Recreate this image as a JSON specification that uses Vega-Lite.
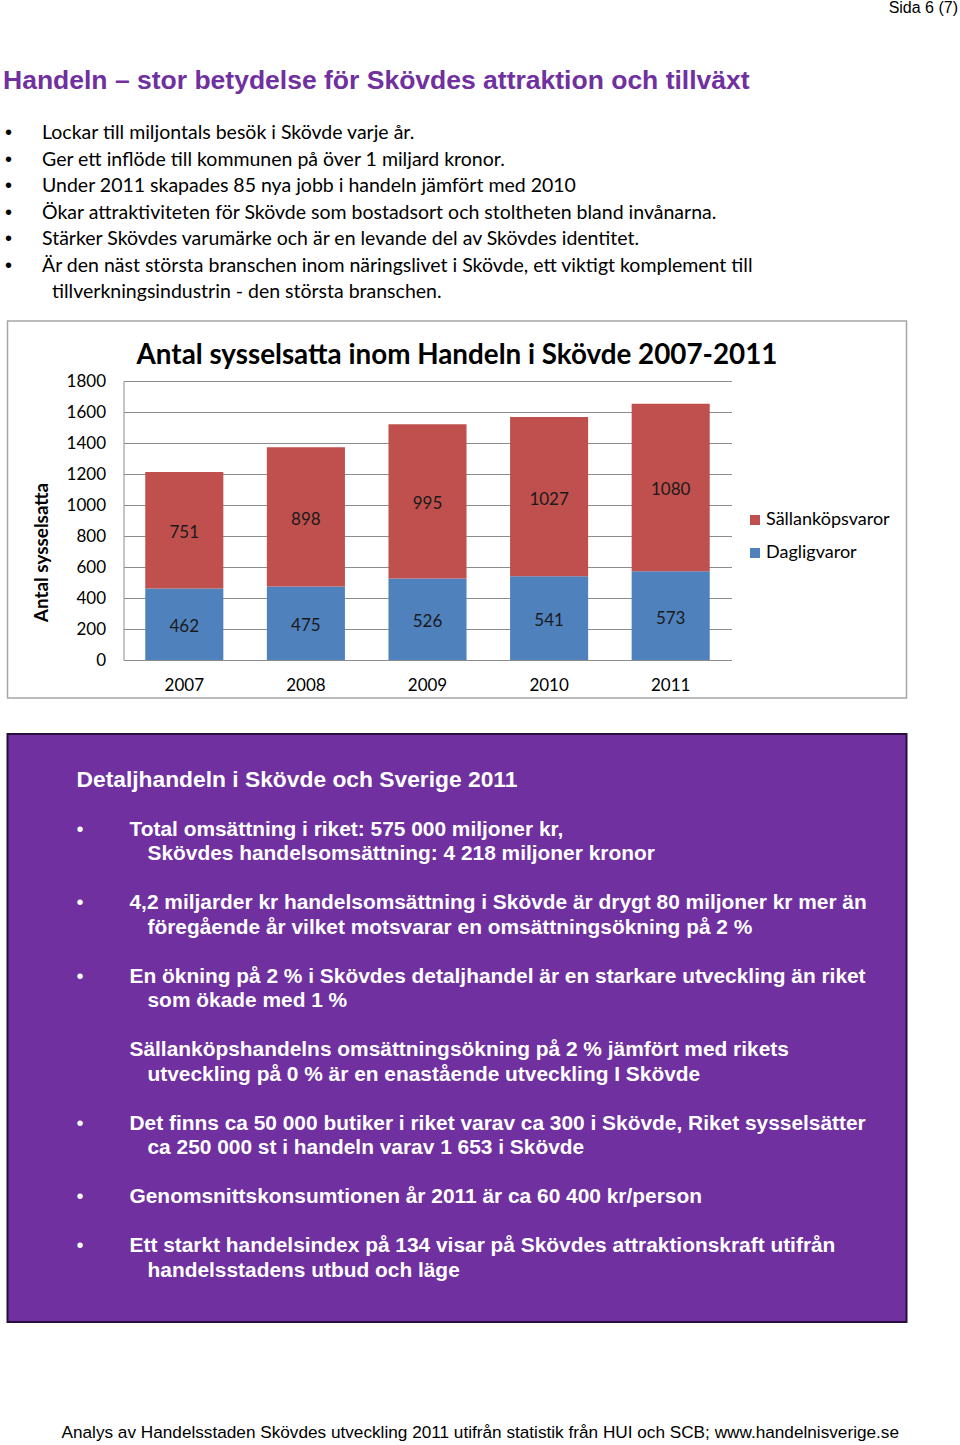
{
  "$schema": "https://vega.github.io/schema/vega-lite/v6.json",
  "background": "white",
  "padding": {"left": 3, "top": 0, "right": 0, "bottom": 0},
  "title": {"text": "Sida 6 (7)", "anchor": "end", "dx": 46, "fontSize": 16, "font": "Liberation Sans", "fontWeight": "normal", "color": "black", "offset": 52},
  "config": {"view": {"stroke": null}},
  "spacing": 13,
  "center": true,
  "vconcat": [
    {
      "width": 909,
      "height": 238.5,
      "data": {"values": [
        {"rad": 0, "niva": "rubrik", "text": "Handeln – stor betydelse för Skövdes attraktion och tillväxt"},
        {"rad": 2, "niva": "punkt", "text": "Lockar till miljontals besök i Skövde varje år."},
        {"rad": 3, "niva": "punkt", "text": "Ger ett inflöde till kommunen på över 1 miljard kronor."},
        {"rad": 4, "niva": "punkt", "text": "Under 2011 skapades 85 nya jobb i handeln jämfört med 2010"},
        {"rad": 5, "niva": "punkt", "text": "Ökar attraktiviteten för Skövde som bostadsort och stoltheten bland invånarna."},
        {"rad": 6, "niva": "punkt", "text": "Stärker Skövdes varumärke och är en levande del av Skövdes identitet."},
        {"rad": 7, "niva": "punkt", "text": "Är den näst största branschen inom näringslivet i Skövde, ett viktigt komplement till"},
        {"rad": 8, "niva": "fortsattning", "text": "tillverkningsindustrin - den största branschen."}
      ]},
      "encoding": {
        "y": {"field": "rad", "type": "ordinal", "scale": {"type": "point", "domain": [0, 1, 2, 3, 4, 5, 6, 7, 8], "padding": 0.5}, "axis": null},
        "text": {"field": "text"}
      },
      "layer": [
        {"transform": [{"filter": "datum.niva === 'rubrik'"}],
         "mark": {"type": "text", "x": 0, "dx": 0, "align": "left", "baseline": "middle", "font": "Liberation Sans", "fontWeight": "bold", "fontSize": 26.5, "color": "#7030A0"}},
        {"transform": [{"filter": "datum.niva === 'punkt'"}],
         "mark": {"type": "text", "x": 0, "dx": 2, "dy": -1, "align": "left", "baseline": "middle", "font": "Liberation Sans", "fontSize": 20, "color": "black"},
         "encoding": {"text": {"value": "•"}}},
        {"transform": [{"filter": "datum.niva === 'punkt'"}],
         "mark": {"type": "text", "x": 0, "dx": 39, "dy": -1, "align": "left", "baseline": "middle", "font": "Lato", "fontSize": 19.5, "color": "black"}},
        {"transform": [{"filter": "datum.niva === 'fortsattning'"}],
         "mark": {"type": "text", "x": 0, "dx": 49, "dy": -1, "align": "left", "baseline": "middle", "font": "Lato", "fontSize": 19.5, "color": "black"}}
      ]
    },
    {
      "spacing": 34,
      "vconcat": [
        {
          "width": 899,
          "height": 377,
          "view": {"stroke": "#a6a6a6", "strokeWidth": 1.5, "fill": "white"},
          "title": {"text": "Antal sysselsatta inom Handeln i Skövde 2007-2011", "font": "Lato", "fontSize": 27.8, "fontWeight": "bold", "color": "black", "anchor": "middle", "offset": -49},
          "data": {"values": [
            {"ar": "2007", "serie": "Dagligvaror", "antal": 462},
            {"ar": "2007", "serie": "Sällanköpsvaror", "antal": 751},
            {"ar": "2008", "serie": "Dagligvaror", "antal": 475},
            {"ar": "2008", "serie": "Sällanköpsvaror", "antal": 898},
            {"ar": "2009", "serie": "Dagligvaror", "antal": 526},
            {"ar": "2009", "serie": "Sällanköpsvaror", "antal": 995},
            {"ar": "2010", "serie": "Dagligvaror", "antal": 541},
            {"ar": "2010", "serie": "Sällanköpsvaror", "antal": 1027},
            {"ar": "2011", "serie": "Dagligvaror", "antal": 573},
            {"ar": "2011", "serie": "Sällanköpsvaror", "antal": 1080}
          ]},
          "encoding": {
            "x": {"field": "ar", "type": "ordinal", "scale": {"range": [116, 724], "paddingInner": 0.358, "paddingOuter": 0.179},
                  "axis": {"title": null, "labelAngle": 0, "offset": -38, "domain": true, "domainColor": "#8c8c8c", "ticks": false, "tickSize": 0, "labelPadding": 17, "labelFont": "Lato", "labelFontSize": 17, "labelColor": "black"}},
            "order": {"field": "serie", "type": "nominal", "sort": "ascending"}
          },
          "layer": [
            {
              "mark": {"type": "bar"},
              "encoding": {
                "y": {"field": "antal", "type": "quantitative", "stack": "zero",
                      "scale": {"domain": [0, 1800], "range": [339, 60], "nice": false},
                      "axis": {"title": "Antal sysselsatta", "titleFont": "Lato", "titleFontSize": 18.9, "titleFontWeight": "bold", "titleColor": "black", "titlePadding": 15, "titleY": 231,
                               "offset": -116, "values": [0, 200, 400, 600, 800, 1000, 1200, 1400, 1600, 1800], "format": "d", "grid": true, "gridColor": "#8c8c8c", "gridWidth": 1,
                               "domain": true, "domainColor": "#8c8c8c", "ticks": false, "tickSize": 0, "labelPadding": 18, "labelFont": "Lato", "labelFontSize": 17, "labelColor": "black"}},
                "color": {"field": "serie", "type": "nominal",
                          "scale": {"domain": ["Sällanköpsvaror", "Dagligvaror"], "range": ["#C0504D", "#4F81BD"]},
                          "legend": {"title": null, "orient": "none", "legendX": 743, "legendY": 443, "symbolType": "square", "symbolSize": 100, "symbolStrokeWidth": 0,
                                     "labelFont": "Lato", "labelFontSize": 18, "labelColor": "black", "rowPadding": 15, "labelOffset": 2}}
              }
            },
            {
              "mark": {"type": "text", "font": "Lato", "fontSize": 17, "color": "#1a1a1a", "baseline": "middle", "dy": 3},
              "encoding": {
                "y": {"field": "antal", "type": "quantitative", "stack": "zero", "bandPosition": 0.5},
                "detail": {"field": "serie"},
                "text": {"field": "antal", "type": "quantitative"}
              }
            }
          ]
        },
        {
          "width": 899,
          "height": 588,
          "view": {"fill": "#7030A0", "stroke": "#26103a", "strokeWidth": 2},
          "title": {"text": "Analys av Handelsstaden Skövdes utveckling 2011 utifrån statistik från HUI och SCB; www.handelnisverige.se", "orient": "bottom", "anchor": "start", "dx": 54, "offset": 102, "font": "Liberation Sans", "fontSize": 17.2, "fontWeight": "normal", "color": "black"},
          "data": {"values": [
            {"rad": 0, "niva": "rubrik", "text": "Detaljhandeln i Skövde och Sverige 2011"},
            {"rad": 2, "niva": "punkt", "text": "Total omsättning i riket: 575 000 miljoner kr,"},
            {"rad": 3, "niva": "fortsattning", "text": "Skövdes handelsomsättning: 4 218 miljoner kronor"},
            {"rad": 5, "niva": "punkt", "text": "4,2 miljarder kr handelsomsättning i Skövde är drygt 80 miljoner kr mer än"},
            {"rad": 6, "niva": "fortsattning", "text": "föregående år vilket motsvarar en omsättningsökning på 2 %"},
            {"rad": 8, "niva": "punkt", "text": "En ökning på 2 % i Skövdes detaljhandel är en starkare utveckling än riket"},
            {"rad": 9, "niva": "fortsattning", "text": "som ökade med 1 %"},
            {"rad": 11, "niva": "text", "text": "Sällanköpshandelns omsättningsökning på 2 % jämfört med rikets"},
            {"rad": 12, "niva": "fortsattning", "text": "utveckling på 0 % är en enastående utveckling I Skövde"},
            {"rad": 14, "niva": "punkt", "text": "Det finns ca 50 000 butiker i riket varav ca 300 i Skövde, Riket sysselsätter"},
            {"rad": 15, "niva": "fortsattning", "text": "ca 250 000 st i handeln varav 1 653 i Skövde"},
            {"rad": 17, "niva": "punkt", "text": "Genomsnittskonsumtionen år 2011 är ca 60 400 kr/person"},
            {"rad": 19, "niva": "punkt", "text": "Ett starkt handelsindex på 134 visar på Skövdes attraktionskraft utifrån"},
            {"rad": 20, "niva": "fortsattning", "text": "handelsstadens utbud och läge"}
          ]},
          "encoding": {
            "y": {"field": "rad", "type": "quantitative", "scale": {"domain": [-1.918, 22.082], "reverse": true, "nice": false, "zero": false}, "axis": null},
            "text": {"field": "text"}
          },
          "layer": [
            {"transform": [{"filter": "datum.niva === 'rubrik'"}],
             "mark": {"type": "text", "x": 0, "dx": 69, "dy": -1, "align": "left", "baseline": "middle", "font": "Liberation Sans", "fontWeight": "bold", "fontSize": 22.8, "color": "white"}},
            {"transform": [{"filter": "datum.niva === 'punkt'"}],
             "mark": {"type": "text", "x": 0, "dx": 69, "align": "left", "baseline": "middle", "font": "Liberation Sans", "fontSize": 20, "color": "white"},
             "encoding": {"text": {"value": "•"}}},
            {"transform": [{"filter": "datum.niva === 'punkt' || datum.niva === 'text'"}],
             "mark": {"type": "text", "x": 0, "dx": 122, "align": "left", "baseline": "middle", "font": "Liberation Sans", "fontWeight": "bold", "fontSize": 20.9, "color": "white"}},
            {"transform": [{"filter": "datum.niva === 'fortsattning'"}],
             "mark": {"type": "text", "x": 0, "dx": 140, "align": "left", "baseline": "middle", "font": "Liberation Sans", "fontWeight": "bold", "fontSize": 20.9, "color": "white"}}
          ]
        }
      ]
    }
  ]
}
